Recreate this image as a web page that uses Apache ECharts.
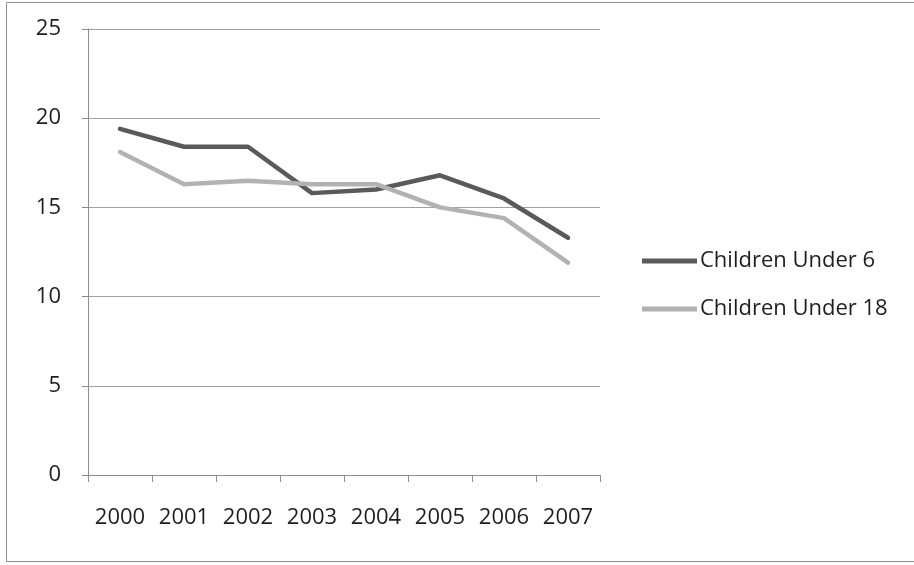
<!DOCTYPE html>
<html>
<head>
<meta charset="utf-8">
<style>
  html, body { margin: 0; padding: 0; background: #fff; }
  #chart { width: 914px; height: 565px; }
</style>
<script src="https://cdn.jsdelivr.net/npm/echarts@6/dist/echarts.min.js"></script>
</head>
<body>
<div id="chart"></div>
<script>
// Poverty rate by year for two child age groups
const years = ['2000', '2001', '2002', '2003', '2004', '2005', '2006', '2007'];
const under6 = [19.4, 18.4, 18.4, 15.8, 16.0, 16.8, 15.5, 13.3];
const under18 = [18.1, 16.3, 16.5, 16.3, 16.3, 15.0, 14.4, 11.9];
const yTicks = [0, 5, 10, 15, 20, 25];

const font = '"Open Sans", "Liberation Sans", sans-serif';
const textColor = '#1e1e1e';
const axisGrey = '#8c8c8c';
const chart = echarts.init(document.getElementById('chart'), null, { renderer: 'canvas' });

chart.setOption({
  animation: false,
  backgroundColor: '#fff',
  graphic: [{
    type: 'rect',
    shape: { x: 6.5, y: 2.5, width: 912, height: 559 },
    style: { fill: 'none', stroke: axisGrey, lineWidth: 1 },
    silent: true
  }],
  grid: { left: 88, top: 29, width: 512, height: 446, containLabel: false },
  legend: {
    orient: 'vertical',
    left: 642,
    top: 248,
    padding: 0,
    itemWidth: 55,
    itemHeight: 5,
    itemGap: 22,
    icon: 'rect',
    textStyle: { fontFamily: font, fontSize: 22, color: textColor, padding: [0, 0, 0, -2], lineHeight: 26 },
    data: ['Children Under 6', 'Children Under 18']
  },
  xAxis: {
    type: 'category',
    data: years,
    boundaryGap: true,
    axisLine: { lineStyle: { color: axisGrey, width: 1 } },
    axisTick: { show: true, interval: 0, alignWithLabel: false, length: 7, lineStyle: { color: axisGrey } },
    axisLabel: { interval: 0, hideOverlap: false, fontFamily: font, fontSize: 22, color: textColor, margin: 32 },
    splitLine: { show: false }
  },
  yAxis: {
    type: 'value',
    min: yTicks[0],
    max: yTicks[yTicks.length - 1],
    interval: 5,
    axisLine: { show: true, lineStyle: { color: axisGrey, width: 1 } },
    axisTick: { show: true, length: 6, lineStyle: { color: axisGrey } },
    axisLabel: { fontFamily: font, fontSize: 22, color: textColor, margin: 27 },
    splitLine: { show: true, lineStyle: { color: '#a0a0a0', width: 1 } }
  },
  series: [
    {
      name: 'Children Under 6',
      type: 'line',
      data: under6,
      symbol: 'none',
      itemStyle: { color: '#5a5a5a' },
      lineStyle: { color: '#5a5a5a', width: 4.5, cap: 'round', join: 'round' }
    },
    {
      name: 'Children Under 18',
      type: 'line',
      data: under18,
      symbol: 'none',
      itemStyle: { color: '#b2b2b2' },
      lineStyle: { color: '#b2b2b2', width: 4.5, cap: 'round', join: 'round' }
    }
  ]
});
</script>
</body>
</html>
